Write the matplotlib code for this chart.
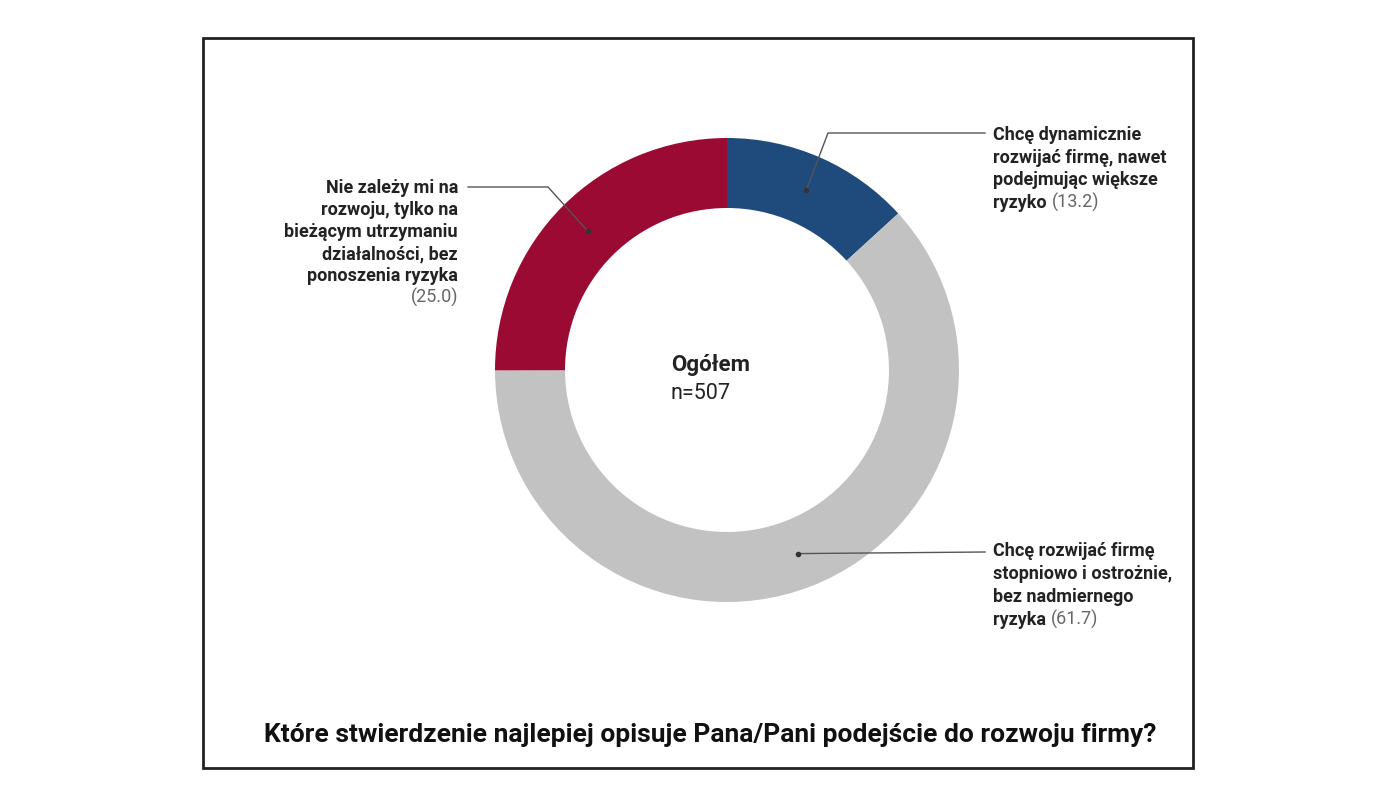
import numpy as np
import matplotlib
matplotlib.use("Agg")
import matplotlib.pyplot as plt
from matplotlib.patches import Rectangle

plt.rcParams['font.family'] = ['Roboto', 'DejaVu Sans']

# data
labels = [
    ["Chcę dynamicznie", "rozwijać firmę, nawet", "podejmując większe", "ryzyko"],
    ["Chcę rozwijać firmę", "stopniowo i ostrożnie,", "bez nadmiernego", "ryzyka"],
    ["Nie zależy mi na", "rozwoju, tylko na", "bieżącym utrzymaniu", "działalności, bez", "ponoszenia ryzyka"],
]
values = [13.2, 61.7, 25.0]
colors = ["#1f4a7c", "#c2c2c2", "#9b0a33"]
title = "Które stwierdzenie najlepiej opisuje Pana/Pani podejście do rozwoju firmy?"
center_title = "Ogółem"
center_n = "n=507"

W, H = 1400, 787
fig = plt.figure(figsize=(14, 7.87), dpi=100)
ax = fig.add_axes([0, 0, 1, 1])

def Y(y):
    return H - y

cx, cy = 727, Y(370)
r_out, ring = 232, 70
wedges, _ = ax.pie(values, colors=colors, startangle=90, counterclock=False,
                   radius=r_out, center=(cx, cy), frame=True,
                   wedgeprops=dict(width=ring, edgecolor='none'))
ax.set_xlim(0, W)
ax.set_ylim(0, H)
ax.set_aspect('equal')
ax.axis('off')

# frame
ax.add_patch(Rectangle((203, Y(768)), 990, 730, fill=False, ec="#222222", lw=2))

# center text
ax.text(671, Y(371), center_title, fontsize=16, fontweight='bold', color='#222222', va='baseline', ha='left')
ax.text(671, Y(399), center_n, fontsize=15.5, color='#222222', va='baseline', ha='left')

# anchor dots at ring middle, mid-angle of each wedge
r_mid = r_out - ring / 2
dots = []
for w in wedges:
    ang = np.deg2rad((w.theta1 + w.theta2) / 2)
    dots.append((cx + r_mid * np.cos(ang), cy + r_mid * np.sin(ang)))

fs = 13
dark = '#222222'
grey = '#666666'
fig.canvas.draw()
renderer = fig.canvas.get_renderer()
inv = ax.transData.inverted()

def right_block(x, y0, step, lines, value):
    # left-aligned block, value after last line
    for i, ln in enumerate(lines):
        t = ax.text(x, Y(y0 + i * step), ln, fontsize=fs, fontweight='bold',
                    color=dark, va='baseline', ha='left')
    bb = t.get_window_extent(renderer)
    x_end = inv.transform((bb.x1, bb.y0))[0]
    ax.text(x_end + 5, Y(y0 + (len(lines) - 1) * step), "(%.1f)" % value,
            fontsize=fs, color=grey, va='baseline', ha='left')

# blue label
right_block(993, 140, 22.7, labels[0], values[0])
dx, dy = dots[0]
ax.plot([dx, 828, 985], [dy, Y(133), Y(133)], color='#555555', lw=1)
ax.plot(dx, dy, 'o', ms=3, color='#333333')

# grey label
right_block(993, 556, 23, labels[1], values[1])
dx, dy = dots[1]
ax.plot([dx, 985], [dy, Y(552)], color='#555555', lw=1)
ax.plot(dx, dy, 'o', ms=3, color='#333333')

# red label (right aligned)
for i, ln in enumerate(labels[2]):
    ax.text(458, Y(193 + i * 22), ln, fontsize=fs, fontweight='bold',
            color=dark, va='baseline', ha='right')
ax.text(458, Y(193 + len(labels[2]) * 22), "(%.1f)" % values[2],
        fontsize=fs, color=grey, va='baseline', ha='right')
dx, dy = dots[2]
ax.plot([dx, 548, 468], [dy, Y(187), Y(187)], color='#555555', lw=1)
ax.plot(dx, dy, 'o', ms=3, color='#333333')

# title
ax.text(710, Y(742), title, fontsize=19, fontweight='bold', color='#111111',
        va='baseline', ha='center')

fig.savefig("out.png", dpi=100, facecolor='white')
